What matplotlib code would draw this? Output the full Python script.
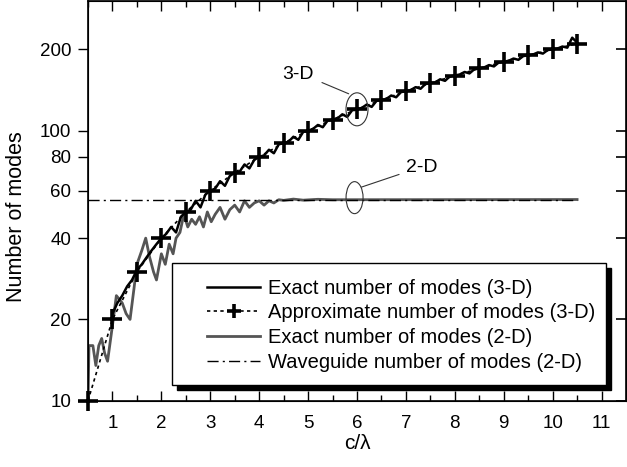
import matplotlib
matplotlib.use('Agg')
import matplotlib.pyplot as plt
import matplotlib.transforms as mtransforms
from matplotlib.patches import Ellipse, Rectangle
from matplotlib.ticker import NullFormatter, NullLocator

plt.rcParams['font.family'] = ['Liberation Sans', 'DejaVu Sans']

# exact number of modes, 3-D
x_3d = [1.0, 1.1, 1.2, 1.3, 1.4, 1.5, 1.6, 1.7, 1.8, 1.9,
        2.0, 2.1, 2.2, 2.3, 2.4, 2.5, 2.6, 2.7, 2.8, 2.9,
        3.0, 3.1, 3.2, 3.3, 3.4, 3.5, 3.6, 3.7, 3.8, 3.9,
        4.0, 4.1, 4.2, 4.3, 4.4, 4.5, 4.6, 4.7, 4.8, 4.9,
        5.0, 5.1, 5.2, 5.3, 5.4, 5.5, 5.6, 5.7, 5.8, 5.9,
        6.0, 6.1, 6.2, 6.3, 6.4, 6.5, 6.6, 6.7, 6.8, 6.9,
        7.0, 7.1, 7.2, 7.3, 7.4, 7.5, 7.6, 7.7, 7.8, 7.9,
        8.0, 8.1, 8.2, 8.3, 8.4, 8.5, 8.6, 8.7, 8.8, 8.9,
        9.0, 9.1, 9.2, 9.3, 9.4, 9.5, 9.6, 9.7, 9.8, 9.9,
        10.0, 10.1, 10.2, 10.3, 10.4, 10.5]
y_3d = [21, 23, 24.5, 26.5, 28, 30.5, 32, 34, 36, 38,
        40, 41.5, 44, 42, 48, 50, 51, 55, 52, 58,
        60, 61, 65, 62.5, 68, 70, 70.5, 75, 72.5, 78,
        80, 81, 85, 82.5, 89, 90, 91, 95, 92.5, 99,
        100, 101.5, 105, 103, 109, 110, 111, 115, 112.5, 119,
        120, 121.5, 125, 122.5, 129, 130, 131, 135, 133, 139,
        140, 141.5, 145, 143, 149, 150, 151, 155, 153, 159,
        160, 161.5, 165, 163, 169, 170, 171.5, 175, 173, 179,
        180, 181.5, 185, 183, 189, 190, 191.5, 195, 193, 199,
        200, 201.5, 205, 203, 221, 212]

# approximate number of modes, 3-D
x_approx = [0.5, 1.0, 1.5, 2.0, 2.5, 3.0, 3.5, 4.0, 4.5, 5.0, 5.5,
            6.0, 6.5, 7.0, 7.5, 8.0, 8.5, 9.0, 9.5, 10.0, 10.5]
y_approx = [10, 20, 30, 40, 50, 60, 70, 80, 90, 100, 110,
            120, 130, 140, 150, 160, 170, 180, 190, 200, 210]

# exact number of modes, 2-D
x_2d = [0.5, 0.52, 0.6, 0.66, 0.72, 0.78, 0.84, 0.9, 1.0, 1.08,
        1.2, 1.28, 1.36, 1.44, 1.5, 1.6, 1.68, 1.76, 1.84, 1.9,
        2.0, 2.08, 2.16, 2.24, 2.3, 2.38, 2.46, 2.54, 2.62, 2.7,
        2.78, 2.86, 2.94, 3.02, 3.1, 3.2, 3.3, 3.4, 3.5, 3.6,
        3.7, 3.8, 3.9, 4.0, 4.1, 4.2, 4.3, 4.4, 4.5, 4.7,
        4.9, 5.2, 5.5, 10.5]
y_2d = [10, 16, 16, 13.5, 16, 17, 15, 14, 19, 24.5,
        23, 21, 20, 26, 32, 36, 40, 34, 30, 28,
        35, 32, 38, 35, 40, 42, 49, 44, 47, 45,
        48, 44, 50, 46, 49, 52, 47, 51, 53, 50,
        55, 52, 54, 55, 53, 55, 54, 55.5, 55.2, 55.8,
        55.3, 55.7, 55.5, 55.6]

# waveguide number of modes, 2-D
x_wg = [0.5, 10.5]
y_wg = [55.5, 55.5]

labels = ['Exact number of modes (3-D)', 'Approximate number of modes (3-D)',
          'Exact number of modes (2-D)', 'Waveguide number of modes (2-D)']
yticks = [10, 20, 40, 60, 80, 100, 200]

fig = plt.figure(figsize=(6.27, 4.67), dpi=100)
ax = fig.add_axes([88 / 627, 66.3 / 467, 538 / 627, 400 / 467])

l1, = ax.plot(x_3d, y_3d, color='black', lw=1.8, zorder=3)
l2, = ax.plot(x_approx, y_approx, color='black', lw=1.2, ls=(0, (2, 2)),
              marker='+', markersize=15, mew=2.6, zorder=3, clip_on=False)
l3, = ax.plot(x_2d, y_2d, color='#555555', lw=2.0, zorder=2)
l4, = ax.plot(x_wg, y_wg, color='black', lw=1.0, ls=(0, (8, 3, 1.5, 3)), zorder=2)

ax.set_yscale('log')
ax.set_xlim(0.5, 11.5)
ax.set_ylim(10, 303)
ax.set_xticks(range(1, 12))
ax.set_xticks([x + 0.5 for x in range(0, 11)], minor=True)
ax.set_yticks(yticks)
ax.set_yticklabels([str(t) for t in yticks])
ax.yaxis.set_minor_locator(NullLocator())
ax.yaxis.set_minor_formatter(NullFormatter())

ax.tick_params(axis='x', which='major', direction='in', length=7, width=1,
               top=True, labelsize=13.5, pad=10)
ax.tick_params(axis='x', which='minor', direction='in', length=4, width=1, top=True)
ax.tick_params(axis='y', which='major', direction='out', length=7, width=1,
               labelsize=13.5, pad=5)
for s in ax.spines.values():
    s.set_linewidth(1.2)

# inward ticks on the right side
ax2 = ax.twinx()
ax2.set_yscale('log')
ax2.set_ylim(ax.get_ylim())
ax2.set_yticks(yticks)
ax2.yaxis.set_minor_locator(NullLocator())
ax2.tick_params(axis='y', which='major', direction='in', length=7, width=1.2,
                labelright=False)
ax2.yaxis.set_minor_formatter(NullFormatter())

ax.set_xlabel('c/\u03bb', fontsize=15, labelpad=2)
ax.set_ylabel('Number of modes', fontsize=15.5)
ax.yaxis.set_label_coords(-0.113, 0.46)

# annotations
ax.annotate('3-D', xy=(5.83, 137), xytext=(4.8, 162), fontsize=14,
            ha='center', va='center',
            arrowprops=dict(arrowstyle='-', lw=0.8, color='#333333',
                            shrinkA=4, shrinkB=0, relpos=(1, 0.2)))
ax.annotate('2-D', xy=(6.09, 61.8), xytext=(7.32, 72.8), fontsize=14,
            ha='center', va='center',
            arrowprops=dict(arrowstyle='-', lw=0.8, color='#333333',
                            shrinkA=3, shrinkB=0, relpos=(0, 0.25)))
for cx, cy, w, h in [(6.0, 120, 0.22, 0.33), (5.95, 56.5, 0.17, 0.32)]:
    tr = fig.dpi_scale_trans + mtransforms.ScaledTranslation(cx, cy, ax.transData)
    ax.add_patch(Ellipse((0, 0), w, h, transform=tr, fill=False,
                         edgecolor='#333333', lw=0.8, zorder=4))

# legend box with solid shadow
ax.add_patch(Rectangle((0.156 + 0.0093, 0.039 - 0.0125), 0.807, 0.305,
                       transform=ax.transAxes, facecolor='black',
                       edgecolor='black', zorder=4.4))
ax.add_patch(Rectangle((0.156, 0.039), 0.807, 0.305, transform=ax.transAxes,
                       facecolor='white', edgecolor='black', lw=1, zorder=4.5))
leg = ax.legend([l1, l2, l3, l4], labels, loc='upper left',
                bbox_to_anchor=(0.222, 0.305), frameon=False, fontsize=14.5,
                borderpad=0, borderaxespad=0, handlelength=2.6,
                handletextpad=0.4, labelspacing=0.28, markerscale=0.7)
leg.set_zorder(5)

fig.savefig('out.png', dpi=100)
